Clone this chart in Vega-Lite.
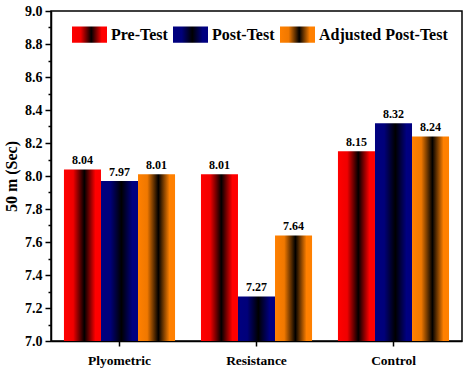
{
  "$schema": "https://vega.github.io/schema/vega-lite/v6.json",
  "width": 411,
  "height": 330,
  "autosize": "none",
  "padding": {"left": 51, "top": 11, "right": 12, "bottom": 31},
  "config": {
    "view": {"stroke": "black", "strokeWidth": 1.5},
    "font": "Liberation Serif",
    "axis": {"domainColor": "black", "domainWidth": 1.5, "tickColor": "black", "tickWidth": 1.5, "labelColor": "black", "titleColor": "black", "grid": false}
  },
  "data": {
    "values": [
      {"group": "Plyometric", "test": "Pre-Test", "value": 8.04},
      {"group": "Plyometric", "test": "Post-Test", "value": 7.97},
      {"group": "Plyometric", "test": "Adjusted Post-Test", "value": 8.01},
      {"group": "Resistance", "test": "Pre-Test", "value": 8.01},
      {"group": "Resistance", "test": "Post-Test", "value": 7.27},
      {"group": "Resistance", "test": "Adjusted Post-Test", "value": 7.64},
      {"group": "Control", "test": "Pre-Test", "value": 8.15},
      {"group": "Control", "test": "Post-Test", "value": 8.32},
      {"group": "Control", "test": "Adjusted Post-Test", "value": 8.24}
    ]
  },
  "encoding": {
    "x": {
      "field": "group", "type": "nominal",
      "sort": ["Plyometric", "Resistance", "Control"],
      "scale": {"paddingInner": 0, "paddingOuter": 0},
      "axis": {"title": null, "labelAngle": 0, "labelFontSize": 13.5, "labelFontWeight": "bold", "tickSize": 5, "labelPadding": 7}
    },
    "xOffset": {
      "field": "test", "type": "nominal",
      "sort": ["Pre-Test", "Post-Test", "Adjusted Post-Test"],
      "scale": {"paddingInner": 0, "paddingOuter": 0.35}
    },
    "y": {
      "field": "value", "type": "quantitative",
      "scale": {"domain": [7, 9], "zero": false, "nice": false},
      "axis": {
        "title": "50 m (Sec)", "titleFontSize": 16, "titleFontWeight": "bold", "titlePadding": 5,
        "values": [7.0, 7.1, 7.2, 7.3, 7.4, 7.5, 7.6, 7.7, 7.8, 7.9, 8.0, 8.1, 8.2, 8.3, 8.4, 8.5, 8.6, 8.7, 8.8, 8.9, 9.0],
        "labelExpr": "round(datum.value*10) % 2 == 0 ? format(datum.value, '.1f') : ''",
        "labelOverlap": false,
        "labelFontSize": 14, "labelFontWeight": "bold", "labelPadding": 3,
        "tickSize": {"condition": {"test": "round(datum.value*10) % 2 == 0", "value": 6}, "value": 3}
      }
    }
  },
  "layer": [
    {
      "mark": {"type": "bar"},
      "encoding": {
        "y2": {"datum": 7},
        "color": {
          "field": "test", "type": "nominal",
          "sort": ["Pre-Test", "Post-Test", "Adjusted Post-Test"],
          "scale": {
            "domain": ["Pre-Test", "Post-Test", "Adjusted Post-Test"],
            "range": [
              {"expr": "{gradient: 'linear', x1: 0, y1: 0, x2: 1, y2: 0, stops: [{offset: 0, color: '#ff0000'}, {offset: 0.25, color: '#f00000'}, {offset: 0.55, color: '#000000'}, {offset: 0.85, color: '#ff0000'}, {offset: 1, color: '#ff0000'}]}"},
              {"expr": "{gradient: 'linear', x1: 0, y1: 0, x2: 1, y2: 0, stops: [{offset: 0, color: '#000080'}, {offset: 0.25, color: '#00007a'}, {offset: 0.55, color: '#000000'}, {offset: 0.85, color: '#000080'}, {offset: 1, color: '#000080'}]}"},
              {"expr": "{gradient: 'linear', x1: 0, y1: 0, x2: 1, y2: 0, stops: [{offset: 0, color: '#ff8000'}, {offset: 0.25, color: '#f07800'}, {offset: 0.55, color: '#000000'}, {offset: 0.85, color: '#ff8000'}, {offset: 1, color: '#ff8000'}]}"}
            ]
          },
          "legend": {
            "title": null, "orient": "none", "direction": "horizontal",
            "legendX": 21, "legendY": 6,
            "symbolType": "M-1,-0.47H1V0.47H-1Z", "symbolSize": 1225,
            "symbolStrokeWidth": 0, "symbolOpacity": 1,
            "labelFontSize": 16, "labelFontWeight": "bold", "labelColor": "black",
            "labelOffset": 4, "columnPadding": 5, "labelLimit": 300
          }
        }
      }
    },
    {
      "mark": {"type": "text", "baseline": "bottom", "dy": -2, "fontSize": 12, "fontWeight": "bold", "color": "black"},
      "encoding": {"text": {"field": "value", "type": "quantitative", "format": ".2f"}}
    }
  ]
}
